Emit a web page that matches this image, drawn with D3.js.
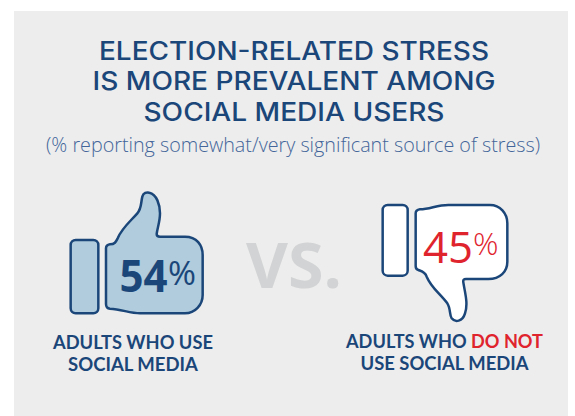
<!DOCTYPE html>
<html><head><meta charset="utf-8">
<script src="https://cdn.jsdelivr.net/npm/d3@7"></script>
<style>html,body{margin:0;padding:0;background:#fff}svg{display:block}</style>
</head><body>
<svg id="chart" width="575" height="416"></svg>
<script>
// Headline copy and the two survey groups
const titleLines = ["ELECTION-RELATED STRESS", "IS MORE PREVALENT AMONG", "SOCIAL MEDIA USERS"];
const subtitle = "(% reporting somewhat/very significant source of stress)";
const values = [54, 45];
const separator = "VS.";

const navy = "#1a4679", red = "#e0242e";
const svg = d3.select("#chart");

svg.append("rect").attr("x", 14).attr("y", 11).attr("width", 554).attr("height", 405).attr("fill", "#ededed");

// Fit a text node to a given width so each line spans its measured extent
function fit(sel, w) { return sel.attr("textLength", w).attr("lengthAdjust", "spacingAndGlyphs"); }

const titleSpec = [[294, 59.5, 390], [294, 90, 403], [294, 120.7, 301]];
titleLines.forEach((t, i) => {
  fit(svg.append("text").attr("x", titleSpec[i][0]).attr("y", titleSpec[i][1])
    .attr("text-anchor", "middle").attr("font-family", "Inter").attr("font-weight", 500)
    .attr("font-size", 25).attr("fill", navy).text(t), titleSpec[i][2]);
});
fit(svg.append("text").attr("x", 293).attr("y", 152).attr("text-anchor", "middle")
  .attr("font-family", "Open Sans").attr("font-weight", 300).attr("font-size", 19.5)
  .attr("fill", "#43659a").text(subtitle), 494);

// Thumb icons: cuff plus hand outline
const upHand = "M168 205Q168 195 180 193C195 193 198 185 203 175C215 145 240 125 262 100C275 85 272 70 277 50C280 38 290 36 298 38C320 42 330 75 330 100C330 125 322 145 320 162Q320 170 330 170L405 170C440 170 458 195 458 225L458 345C458 375 435 400 405 400L270 400C240 400 215 388 180 386Q168 385 168 372Z";
const downHand = "M137 70Q137 60 150 58C180 58 200 45 235 45L360 45C390 45 412 70 412 100L412 215C412 245 390 267 355 267L288 267Q278 267 280 277C285 310 295 340 285 370C278 395 255 398 245 385C238 375 242 355 232 340C210 310 185 295 170 260C165 245 150 242 145 240Q137 238 137 228Z";

const icons = [
  {tx: 50, ty: 180, cuff: [62, 180, 83, 220], hand: upHand, fill: "#b0ccdd"},
  {tx: 370, ty: 190, cuff: [38, 45, 75, 212], hand: downHand, fill: "#ffffff"}
];
icons.forEach(ic => {
  const g = svg.append("g").attr("transform", `translate(${ic.tx},${ic.ty}) scale(${1/3})`)
    .attr("fill", ic.fill).attr("stroke", navy).attr("stroke-width", 7.5);
  g.append("rect").attr("x", ic.cuff[0]).attr("y", ic.cuff[1]).attr("width", ic.cuff[2]).attr("height", ic.cuff[3]).attr("rx", 15);
  g.append("path").attr("d", ic.hand).attr("stroke-linejoin", "round");
});

// Percent figures, number and sign set separately
function figure(value, x, y, w, weight, pctX, pctY, pctW, pctWeight, color) {
  fit(svg.append("text").attr("x", x).attr("y", y).attr("font-family", "Open Sans")
    .attr("font-weight", weight).attr("font-size", 44).attr("fill", color).text(value), w);
  fit(svg.append("text").attr("x", pctX).attr("y", pctY).attr("font-family", "Open Sans")
    .attr("font-weight", pctWeight).attr("font-size", 32).attr("fill", color).text("%"), pctW);
}
figure(values[0], 119.5, 292, 48, 700, 168, 285, 28, 400, navy);
figure(values[1], 423, 262.5, 50, 400, 473, 255, 25.5, 300, red);

// Central separator
fit(svg.append("text").attr("x", 246).attr("y", 288).attr("font-family", "Open Sans").attr("font-weight", 700)
  .attr("font-size", 63).attr("fill", "#d2d3d4").text(separator), 96);

// Group captions
function caption(x, y, w, parts) {
  const t = svg.append("text").attr("x", x).attr("y", y).attr("text-anchor", "middle")
    .attr("font-family", "Lato").attr("font-weight", 700).attr("font-size", 18);
  parts.forEach(p => t.append("tspan").attr("fill", p[1]).text(p[0]));
  fit(t, w);
}
caption(133, 349, 160, [["ADULTS WHO USE", navy]]);
caption(133, 371, 130, [["SOCIAL MEDIA", navy]]);
caption(444.5, 348, 197, [["ADULTS WHO ", navy], ["DO NOT", red]]);
caption(444.5, 370, 168, [["USE SOCIAL MEDIA", navy]]);
</script>
</body></html>
